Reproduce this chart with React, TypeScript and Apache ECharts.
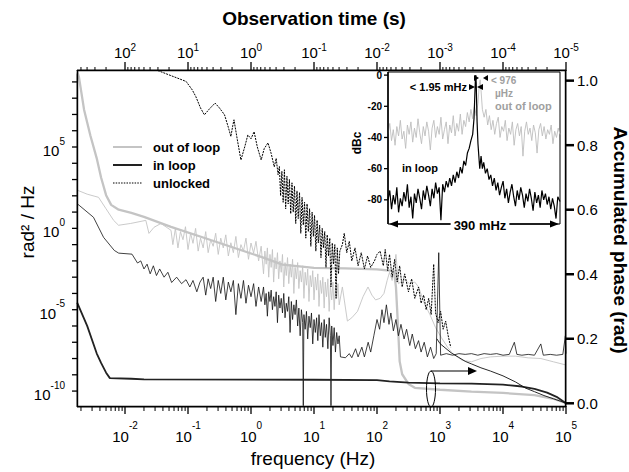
import { useEffect, useRef } from 'react';
import * as echarts from 'echarts';

// ---------- layout of the two plotting areas ----------
const MAIN_GRID = { left: 77, top: 70, width: 489, height: 337 };
const INSET_GRID = { left: 388, top: 72, width: 172, height: 152 };

// ---------- axis ranges ----------
const FREQ_MIN = 0.00173;
const FREQ_MAX = 1e5;
const PSD_MIN = 1.05e-11;
const PSD_MAX = 5.4e9;
const PHASE_MIN = -0.0115;
const PHASE_MAX = 1.033;
const INSET_F_MIN = -195; // mHz
const INSET_F_MAX = 195;
const DBC_MIN = -95.5;
const DBC_MAX = 2;

// ---------- tick values ----------
const FREQ_DECADES = [1e-2, 1e-1, 1, 10, 100, 1e3, 1e4, 1e5];
const TIME_DECADES = [1e2, 10, 1, 0.1, 0.01, 1e-3, 1e-4, 1e-5];
const PSD_TICKS = [1e-10, 1e-9, 1e-8, 1e-7, 1e-6, 1e-5, 1e-4, 1e-3, 1e-2, 0.1, 1, 10, 100, 1e3, 1e4, 1e5, 1e6, 1e7, 1e8, 1e9];
const PSD_LABELS = [1e-10, 1e-5, 1, 1e5];
const PHASE_TICKS = [0, 0.2, 0.4, 0.6, 0.8, 1.0];
const DBC_TICKS = [0, -20, -40, -60, -80];
const MINOR_MULTIPLIERS = [2, 3, 4, 5, 6, 7, 8, 9];

// ---------- main plot data: [frequency Hz, rad^2/Hz] ----------
const OUT_LOOP_PSD = [
  [0.00174, 224], [0.00251, 126], [0.0038, 81], [0.005, 16], [0.0066, 3.1], [0.0079, 1.55],
  [0.0123, 2.0], [0.0214, 3.1], [0.024, 0.49], [0.0288, 1.15], [0.0372, 2.0], [0.0537, 0.76],
  [0.0575, 0.1], [0.0631, 1], [0.0692, 0.063], [0.0759, 0.63], [0.0832, 0.2], [0.0912, 1.26],
  [0.1, 0.05], [0.11, 0.5], [0.12, 0.12], [0.132, 1], [0.145, 0.04], [0.158, 0.25],
  [0.174, 0.063], [0.191, 0.63], [0.209, 0.032], [0.229, 0.2], [0.251, 0.079], [0.275, 0.5],
  [0.302, 0.025], [0.331, 0.25], [0.363, 0.063], [0.398, 0.4], [0.437, 0.02], [0.479, 0.13],
  [0.525, 0.032], [0.575, 0.32], [0.631, 0.016], [0.692, 0.1], [0.759, 0.04], [0.832, 0.25],
  [0.912, 0.0126], [1.0, 0.126], [1.1, 0.03], [1.2, 0.16], [1.32, 0.01], [1.45, 0.08],
  [1.58, 1.6e-3], [1.66, 0.04], [1.74, 6.3e-3], [1.82, 0.063], [1.91, 1e-3], [2.0, 0.025],
  [2.09, 4e-3], [2.19, 0.05], [2.29, 5e-4], [2.4, 0.016], [2.51, 3.2e-3], [2.63, 0.032],
  [2.75, 7.9e-4], [2.88, 0.01], [3.02, 2e-3], [3.16, 0.025], [3.31, 2.5e-4], [3.47, 7.9e-3],
  [3.63, 1.26e-3], [3.8, 0.016], [3.98, 4e-4], [4.17, 6.3e-3], [4.37, 1e-3], [4.57, 0.0126],
  [4.79, 1e-4], [5.01, 4e-3], [5.25, 7.9e-4], [5.5, 7.9e-3], [5.75, 2e-4], [6.03, 2.5e-3],
  [6.31, 5e-4], [6.61, 5e-3], [6.92, 5e-5], [7.24, 2e-3], [7.59, 3.2e-4], [7.94, 3.2e-3],
  [8.32, 3.2e-5], [8.71, 1.26e-3], [9.12, 2.5e-4], [9.55, 2.5e-3], [10, 4e-5], [10.5, 1e-3],
  [11.0, 1.6e-4], [11.5, 1.6e-3], [12.0, 1.6e-5], [12.6, 6.3e-4], [13.2, 1e-4], [13.8, 1e-3],
  [14.5, 1.26e-5], [15.1, 5e-4], [15.8, 6.3e-5], [16.6, 7.9e-4], [17.4, 7.9e-6], [18.2, 3.2e-4],
  [19.1, 4e-5], [20.0, 5e-4], [20.9, 1e-5], [21.9, 2.5e-4], [22.9, 5e-5], [24.0, 4e-4],
  [25.1, 2e-5], [28.2, 2.5e-4], [33.9, 2e-6], [39.8, 3.2e-6], [49, 7.9e-6], [60, 6.3e-5],
  [72, 2.5e-4], [83, 7.9e-5], [95, 4e-5], [112, 5e-5], [129, 1e-4], [145, 6.3e-4], [158, 2e-3],
  [174, 6.3e-4], [200, 0.025], [219, 4e-4], [269, 7e-4], [331, 4e-4], [398, 5e-4], [457, 2.5e-4],
  [562, 2.5e-5], [692, 5e-6], [851, 7.9e-7], [1047, 2e-7], [1318, 5e-8], [1585, 2e-8],
  [2239, 7.9e-9], [3162, 6.3e-9], [4467, 1e-8], [6310, 1.26e-8], [1e4, 1.4e-8], [15850, 1.4e-8],
  [25120, 1.1e-8], [39810, 1e-8], [63100, 6.3e-9], [1e5, 4e-9],
];

const IN_LOOP_PSD = [
  [0.00174, 33], [0.00316, 4.8], [0.00457, 0.28], [0.00676, 0.044], [0.00794, 0.03],
  [0.0129, 0.026], [0.0158, 7.4e-3], [0.0178, 0.01], [0.02, 3.2e-3], [0.0224, 6.3e-3],
  [0.0251, 1.6e-3], [0.0282, 5e-3], [0.0316, 1.26e-3], [0.0355, 3.2e-3], [0.0417, 1e-3],
  [0.0479, 2e-3], [0.055, 4.7e-4], [0.066, 1e-3], [0.079, 4e-4], [0.093, 7e-4], [0.107, 2.5e-4],
  [0.12, 6.3e-4], [0.138, 1.26e-4], [0.155, 5e-4],
  [0.174, 1e-3], [0.191, 7.9e-5], [0.209, 7.9e-4], [0.229, 2e-4], [0.251, 1e-3], [0.275, 3.2e-5],
  [0.302, 6.3e-4], [0.331, 1e-4], [0.363, 1e-3], [0.398, 4e-5], [0.437, 5e-4], [0.479, 1.26e-4],
  [0.525, 6.3e-4], [0.575, 5e-6], [0.631, 4e-4], [0.692, 5e-5], [0.759, 6.3e-4], [0.832, 2.5e-5],
  [0.912, 3.2e-4], [1.0, 6.3e-5], [1.1, 4e-4], [1.2, 1.6e-5], [1.32, 2.5e-4], [1.45, 3.2e-5],
  [1.58, 2.5e-4], [1.66, 2e-5], [1.74, 1e-4], [1.82, 4e-6], [1.91, 1.26e-4], [2.0, 3.2e-5],
  [2.09, 1.6e-4], [2.19, 1e-5], [2.29, 6.3e-5], [2.4, 1.6e-5], [2.51, 1.26e-4], [2.63, 1.6e-6],
  [2.75, 7.9e-5], [2.88, 1.26e-5], [3.02, 5e-5], [3.16, 6.3e-6], [3.31, 1e-4], [3.47, 3.2e-6],
  [3.63, 2.5e-5], [3.8, 7.9e-6], [3.98, 6.3e-5], [4.17, 4e-7], [4.37, 3.2e-5], [4.57, 2.5e-6],
  [4.79, 2e-5], [5.01, 5e-6], [5.25, 4e-5], [5.5, 1e-6], [5.75, 1.26e-5], [6.03, 2.5e-7],
  [6.31, 1e-5], [6.61, 1.6e-6], [6.76, 1.26e-11], [6.92, 5e-6], [7.24, 6.3e-7], [7.59, 7.9e-6],
  [7.94, 1.6e-7], [8.32, 4e-6], [8.71, 7.9e-7], [9.12, 6.3e-6], [9.55, 7.9e-8], [10, 2.5e-6],
  [10.5, 4e-7], [11.0, 3.2e-6], [11.5, 1.26e-7], [12.0, 5e-6], [12.6, 2.5e-7], [13.2, 1.6e-6],
  [13.8, 5e-8], [14.5, 2.5e-6], [15.1, 2e-7], [15.8, 1.26e-6], [16.6, 4e-8], [17.4, 3.2e-6],
  [18.2, 2.5e-7], [18.6, 1.26e-11], [19.1, 1e-6], [20.0, 6.3e-8], [20.9, 7.9e-7], [21.9, 2.5e-8],
  [22.9, 4e-7], [24.0, 7.9e-8], [25.1, 2.5e-7],
  [26.3, 1.26e-8], [31.6, 1.12e-8], [36.3, 2e-8], [39.8, 1.12e-8], [45.7, 4e-8], [50.1, 1.26e-8],
  [57.5, 5e-8], [63.1, 1.26e-8], [72.4, 1e-7], [79.4, 2.5e-8], [89.1, 2.5e-7], [100, 2.5e-6],
  [110, 6.3e-7], [120, 1e-5], [129, 1.6e-6], [141, 2e-5], [155, 1.26e-6], [166, 6.3e-6],
  [182, 5e-7], [200, 2.5e-6], [219, 2.5e-7], [240, 1.26e-6], [269, 1.6e-7], [295, 6.3e-7],
  [331, 6.3e-8], [363, 3.2e-7], [407, 4e-8], [457, 1.26e-7], [501, 2.5e-8], [562, 1e-7],
  [631, 1.26e-8], [708, 5e-8], [794, 1e-8], [871, 2e-8], [955, 0.032], [1023, 1.6e-8],
  [1259, 2e-8], [1585, 1.6e-8], [1995, 2e-8], [2512, 1.8e-8], [3162, 2e-8], [3981, 1.6e-8],
  [5012, 2e-8], [6310, 1.8e-8], [7943, 2e-8], [1e4, 1.6e-8], [12590, 1.8e-8], [15140, 1e-7],
  [16600, 1.8e-8], [19950, 1.6e-8], [25120, 1.8e-8], [31620, 1.6e-8], [39810, 7.9e-8],
  [43650, 1.6e-8], [56230, 1.8e-8], [70790, 1.6e-8], [89130, 1.8e-8], [97720, 2.5e-7], [1e5, 2e-8],
];

const UNLOCKED_PSD = [
  [0.0331, 5.0e9], [0.0933, 1.07e9], [0.117, 3.2e8], [0.133, 1.26e8],
  [0.158, 2.5e7], [0.182, 9.5e6], [0.219, 2.2e7], [0.269, 5e7], [0.316, 2.5e7], [0.38, 9.5e6],
  [0.437, 1.6e6], [0.479, 4.4e5], [0.513, 2e6], [0.537, 4.7e6], [0.603, 3.2e5], [0.692, 1.6e4],
  [0.794, 1e5], [0.891, 5.5e5], [1.0, 3.2e5], [1.12, 8.7e5], [1.26, 1e5], [1.45, 1.6e4],
  [1.62, 7.9e4], [1.86, 1.8e5], [2.09, 4e4], [2.34, 6e3], [2.51, 2e4], [2.69, 2e3],
  [2.82, 6.3e3], [2.95, 100], [3.09, 3.2e3], [3.24, 40], [3.39, 4e3], [3.55, 16], [3.72, 1.6e3],
  [3.89, 32], [4.07, 1e3], [4.27, 7.9], [4.47, 630], [4.68, 10], [4.9, 400], [5.13, 2],
  [5.37, 200], [5.62, 4], [5.89, 160], [6.17, 0.5], [6.46, 79], [6.76, 1.6], [7.08, 40],
  [7.41, 0.25], [7.76, 32], [8.13, 0.63], [8.51, 16], [8.91, 0.079], [9.33, 10], [9.77, 0.32],
  [10.2, 6.3], [10.7, 0.04], [11.2, 3.2], [11.7, 0.126], [12.3, 1.6], [12.9, 0.016], [13.5, 1],
  [14.1, 0.063], [14.8, 0.63], [15.5, 4e-3], [16.2, 0.4], [17.0, 0.02], [17.8, 0.25],
  [18.6, 2.5e-4], [19.5, 0.126], [20.4, 6.3e-3], [21.4, 0.1], [22.4, 5e-5], [23.4, 0.063],
  [24.5, 1.6e-3], [25.7, 0.04],
  [28.2, 0.1], [30.2, 0.5], [33.1, 0.032], [36.3, 0.16], [39.8, 0.01], [44.7, 0.063], [50.1, 5e-3],
  [56.2, 0.032], [63.1, 3.2e-3], [70.8, 0.02], [79.4, 4e-3], [91.2, 0.01], [100, 0.025],
  [112, 0.04], [126, 5e-3], [135, 0.05], [148, 2.5e-3], [158, 0.025], [174, 1e-3], [191, 0.0126],
  [209, 5e-4], [229, 5e-3], [251, 2.5e-4], [275, 1.6e-3], [316, 1.26e-4], [355, 7.9e-4],
  [398, 5e-5], [457, 2.5e-4], [501, 2.5e-5], [550, 7.9e-5], [603, 1e-5], [661, 5e-5],
  [724, 5e-6], [794, 6.3e-3], [851, 6.3e-6], [933, 1.6e-6], [1023, 7.9e-6], [1122, 6.3e-7],
  [1230, 2e-6], [1349, 2.5e-7], [1479, 5e-8],
];

// ---------- accumulated phase: [frequency Hz, rad] ----------
const OUT_LOOP_ACC = [
  [0.00174, 1.03], [0.00186, 1.01], [0.00224, 0.91], [0.00282, 0.83], [0.00355, 0.76],
  [0.00417, 0.7], [0.00501, 0.645], [0.00603, 0.615], [0.00794, 0.6], [0.0126, 0.59],
  [0.02, 0.578], [0.0537, 0.547], [0.229, 0.506], [1.45, 0.454], [3.16, 0.43], [10, 0.42],
  [31.6, 0.418], [100, 0.415], [186, 0.41], [200, 0.36], [214, 0.25], [229, 0.13], [251, 0.09],
  [316, 0.06], [398, 0.048], [1000, 0.042], [3162, 0.036], [1e4, 0.032], [31620, 0.025],
  [63100, 0.014], [1e5, 0],
];

const IN_LOOP_ACC = [
  [0.00174, 0.312], [0.00251, 0.24], [0.00355, 0.155], [0.00417, 0.125], [0.00501, 0.095],
  [0.00575, 0.078], [0.0126, 0.076], [0.02, 0.074], [10, 0.073], [100, 0.072], [158, 0.068],
  [316, 0.064], [1000, 0.062], [3162, 0.061], [1e4, 0.058], [19950, 0.052], [31620, 0.045],
  [50120, 0.033], [70790, 0.02], [1e5, 0],
];

const UNLOCKED_ACC = [
  [891, 0.2], [1000, 0.185], [1202, 0.172], [1514, 0.156], [1995, 0.142], [2512, 0.13],
  [3162, 0.122], [4467, 0.11], [6310, 0.1], [1e4, 0.085], [15850, 0.066], [22900, 0.047],
  [31620, 0.036], [44670, 0.024], [63100, 0.014], [83180, 0.006], [1e5, 0],
];

// ---------- inset: [offset mHz, dBc] ----------
const INSET_OUT_LOOP = [
  [-195, -38], [-191, -31], [-187, -42], [-183, -35], [-179, -45], [-175, -33], [-171, -39],
  [-167, -29], [-163, -41], [-159, -36], [-155, -47], [-151, -32], [-147, -38], [-143, -30],
  [-139, -43], [-135, -34], [-131, -40], [-127, -28], [-123, -37], [-119, -44], [-115, -33],
  [-111, -39], [-107, -30], [-103, -36], [-99, -48], [-95, -34], [-91, -29], [-87, -40],
  [-83, -33], [-79, -38], [-75, -27], [-71, -41], [-67, -35], [-63, -30], [-59, -44], [-55, -32],
  [-51, -37], [-47, -26], [-43, -39], [-39, -31], [-35, -36], [-31, -25], [-27, -38], [-23, -29],
  [-19, -33], [-15, -24], [-11, -30], [-7, -22], [-3, -28], [1, -20], [5, -26], [9, -18],
  [12, -6], [14, -3], [16, -10], [19, -22], [23, -27], [27, -22], [31, -32], [35, -26],
  [39, -35], [43, -29], [47, -38], [51, -31], [55, -27], [59, -40], [63, -33], [67, -36],
  [71, -29], [75, -42], [79, -34], [83, -38], [87, -30], [91, -45], [95, -35], [99, -31],
  [103, -39], [107, -33], [111, -52], [115, -36], [119, -30], [123, -38], [127, -34], [131, -42],
  [135, -32], [139, -37], [143, -50], [147, -35], [151, -31], [155, -39], [159, -33], [163, -41],
  [167, -35], [171, -38], [175, -32], [179, -44], [183, -36], [187, -40], [191, -34], [195, -38],
];

const INSET_IN_LOOP = [
  [-195, -80], [-191, -74], [-187, -86], [-183, -77], [-179, -83], [-175, -72], [-171, -88],
  [-167, -79], [-163, -84], [-159, -75], [-155, -81], [-151, -70], [-147, -85], [-143, -78],
  [-139, -92], [-135, -76], [-131, -82], [-127, -73], [-123, -79], [-119, -86], [-115, -74],
  [-111, -80], [-107, -71], [-103, -77], [-99, -84], [-95, -73], [-91, -79], [-87, -69],
  [-83, -76], [-79, -72], [-75, -93], [-71, -70], [-67, -75], [-63, -68], [-59, -72], [-55, -66],
  [-51, -71], [-47, -64], [-43, -69], [-39, -62], [-35, -66], [-31, -59], [-27, -63], [-23, -55],
  [-19, -58], [-15, -50], [-11, -47], [-7, -42], [-3, -38], [0, -28], [3, -4], [4, 0], [5, -5],
  [7, -30], [9, -44], [13, -60], [16, -52], [19, -60], [22, -56], [26, -63], [30, -60], [34, -67],
  [38, -64], [42, -71], [46, -66], [50, -74], [54, -69], [58, -77], [62, -72], [66, -68],
  [70, -79], [74, -73], [78, -82], [82, -75], [86, -70], [90, -78], [94, -84], [98, -74],
  [102, -80], [106, -72], [110, -77], [114, -85], [118, -76], [122, -81], [126, -73], [130, -79],
  [134, -87], [138, -75], [142, -82], [146, -77], [150, -85], [154, -74], [158, -80], [162, -76],
  [166, -83], [170, -78], [174, -86], [178, -79], [182, -84], [186, -92], [190, -78], [195, -81],
];

// ---------- styling ----------
const FONT = 'Liberation Sans, Arial, Helvetica, sans-serif';
const GRAY = '#c4c4c4';
const INK = '#000';

const minorTicks = (decades: number[], lo: number, hi: number) => {
  const out: number[] = [];
  decades.forEach((d) => MINOR_MULTIPLIERS.forEach((m) => {
    const v = d * m;
    if (v > lo && v < hi) out.push(v);
  }));
  return out;
};

const expFormatter = (v: number) => `{b|10}{e|${Math.round(Math.log10(v))}}`;
const richExp = (pad: number) => ({
  b: { fontSize: 15, fontFamily: FONT, color: INK, padding: [pad, 0, 0, 0], verticalAlign: 'bottom' },
  e: { fontSize: 10, fontFamily: FONT, color: INK, verticalAlign: 'top' },
});

const noLine = { show: false, onZero: false };
const noTick = { show: false };

// positions on the axes (same linear-in-log mapping the axes use)
const logPos = (v: number, lo: number, hi: number, a: number, b: number) =>
  a + ((Math.log10(v) - Math.log10(lo)) / (Math.log10(hi) - Math.log10(lo))) * (b - a);
const linPos = (v: number, lo: number, hi: number, a: number, b: number) => a + ((v - lo) / (hi - lo)) * (b - a);

function buildGraphics() {
  const L = MAIN_GRID.left, R = MAIN_GRID.left + MAIN_GRID.width;
  const T = MAIN_GRID.top, B = MAIN_GRID.top + MAIN_GRID.height;
  const W = MAIN_GRID.width, H = MAIN_GRID.height;
  const IL = INSET_GRID.left, IT = INSET_GRID.top, IB = INSET_GRID.top + INSET_GRID.height;

  const fx = (v: number) => logPos(v, FREQ_MIN, FREQ_MAX, L, R);
  const tx = (v: number) => logPos(v, 1 / FREQ_MIN, 1 / FREQ_MAX, L, R);
  const py = (v: number) => logPos(v, PSD_MIN, PSD_MAX, B, T);
  const ry = (v: number) => linPos(v, PHASE_MIN, PHASE_MAX, B, T);
  const dy = (v: number) => linPos(v, DBC_MIN, DBC_MAX, IB, IT);

  const els: any[] = [];
  const text = (t: string, x: number, y: number, font: string, fill: string, align = 'left', rotation = 0, extra: any = {}) =>
    els.push({
      type: 'text', x, y, rotation, z: 140, silent: true,
      style: { text: t, font, fill, align, verticalAlign: 'middle', textAlign: align, textVerticalAlign: 'middle', ...extra },
    });
  const tri = (pts: number[][]) => els.push({ type: 'polygon', z: 130, silent: true, shape: { points: pts }, style: { fill: INK } });
  const stroke = (shape: any, style: any, type = 'line') => els.push({ type, z: 130, silent: true, shape, style });
  const box = (x: number, y: number, width: number, height: number) =>
    els.push({ type: 'polygon', z: 130, silent: true, shape: { points: [[x, y], [x + width, y], [x + width, y + height], [x, y + height]] }, style: { fill: INK } });

  // titles
  text('Observation time (s)', 314, 18, `bold 19px ${FONT}`, INK, 'center');
  text('frequency (Hz)', 313, 458, `19px ${FONT}`, INK, 'center');
  text('rad² / Hz', 27, 222, `19px ${FONT}`, INK, 'center', Math.PI / 2);
  text('Accumulated phase (rad)', 620, 240, `bold 19px ${FONT}`, INK, 'center', -Math.PI / 2);
  // legend
  stroke({ x1: 113, y1: 147, x2: 142, y2: 147 }, { stroke: GRAY, lineWidth: 2 });
  stroke({ x1: 113, y1: 165, x2: 142, y2: 165 }, { stroke: '#222', lineWidth: 2 });
  stroke({ x1: 113, y1: 183, x2: 142, y2: 183 }, { stroke: '#000', lineWidth: 1.2, lineDash: [1.5, 1.2] });
  text('out of loop', 153, 147, `bold 13px ${FONT}`, INK);
  text('in loop', 153, 165, `bold 13px ${FONT}`, INK);
  text('unlocked', 153, 183, `bold 13px ${FONT}`, INK);
  // ellipse + arrow
  stroke({ cx: 431, cy: 389, rx: 4.5, ry: 18 }, { fill: 'none', stroke: INK, lineWidth: 1 }, 'ellipse');
  stroke({ x1: 431, y1: 371, x2: 470, y2: 371 }, { stroke: INK, lineWidth: 1.2 });
  tri([[468, 367], [477, 371], [468, 375]]);
  // inset annotations
  text('dBc', 357, 143, `bold 12px ${FONT}`, INK, 'center', Math.PI / 2);
  text('< 1.95 mHz', 467, 87, `bold 11px ${FONT}`, INK, 'right');
  tri([[469, 84], [475, 87], [469, 90]]);
  tri([[483, 84], [477, 87], [483, 90]]);
  tri([[474, 75], [479, 78], [474, 81]]);
  tri([[488, 75], [483, 78], [488, 81]]);
  text('< 976', 491, 80, `bold 10px ${FONT}`, '#a0a0a0');
  text('µHz', 495, 93, `bold 10px ${FONT}`, '#a0a0a0');
  text('out of loop', 495, 106, `bold 11px ${FONT}`, '#a0a0a0');
  text('in loop', 402, 168, `bold 11px ${FONT}`, INK);
  stroke({ x1: 392, y1: 224, x2: 556, y2: 224 }, { stroke: INK, lineWidth: 1.3 });
  tri([[398, 220.5], [389, 224], [398, 227.5]]);
  tri([[550, 220.5], [559, 224], [550, 227.5]]);
  text('390 mHz', 480, 225, `bold 13px ${FONT}`, INK, 'center', 0, { backgroundColor: '#fff', padding: [0, 3] });

  // frame of the main plot, drawn just inside the plotting area
  box(L, T, W, 1.2);
  box(L, B - 1.2, W, 1.2);
  box(L, T, 1.2, H);
  box(R - 1.2, T, 1.2, H);
  // inset axis line
  box(IL - 0.75, IT, 1.5, IB - IT);

  const freqMinor = minorTicks([1e-3, 1e-2, 1e-1, 1, 10, 100, 1e3, 1e4], FREQ_MIN, FREQ_MAX);
  const timeMinor = minorTicks([1e-5, 1e-4, 1e-3, 1e-2, 1e-1, 1, 10, 100], 1 / FREQ_MAX, 1 / FREQ_MIN);

  FREQ_DECADES.forEach((v) => box(fx(v) - 0.65, B - 1, 1.3, 8));
  freqMinor.forEach((v) => box(fx(v) - 0.5, B - 1, 1, 5));
  TIME_DECADES.forEach((v) => box(tx(v) - 0.65, T - 8, 1.3, 9));
  timeMinor.forEach((v) => box(tx(v) - 0.5, T - 3, 1, 4));
  PSD_TICKS.forEach((v) => box(L - 5, py(v) - 0.65, 6, 1.3));
  PHASE_TICKS.forEach((v) => box(R - 1, ry(v) - 1.25, 9, 2.5));
  DBC_TICKS.forEach((v) => box(IL - 4, dy(v) - 0.65, 4, 1.3));
  return els;
}

function buildOption() {
  const line = (data: number[][], x: number, y: number, color: string, width: number, type: any = 'solid', z = 2) => ({
    type: 'line', xAxisIndex: x, yAxisIndex: y, data, symbol: 'none', showSymbol: false, clip: false,
    lineStyle: { color, width, type }, z, animation: false, silent: true,
  });

  return {
    animation: false,
    backgroundColor: '#fff',
    grid: [
      { ...MAIN_GRID, show: true, backgroundColor: 'transparent', borderColor: INK, borderWidth: 1 },
      { ...INSET_GRID, show: true, backgroundColor: '#fff', borderColor: INK, borderWidth: 1, z: 10 },
    ],
    xAxis: [
      {
        type: 'log', gridIndex: 0, position: 'bottom', min: FREQ_MIN, max: FREQ_MAX,
        axisLine: noLine, axisTick: noTick, splitLine: { show: false },
        axisLabel: { show: true, customValues: FREQ_DECADES, formatter: expFormatter, margin: 13, rich: richExp(9) },
      },
      {
        type: 'log', gridIndex: 0, position: 'top', inverse: true, min: 1 / FREQ_MAX, max: 1 / FREQ_MIN,
        axisLine: noLine, axisTick: noTick, splitLine: { show: false },
        axisLabel: { show: true, customValues: TIME_DECADES, formatter: expFormatter, margin: 10, rich: richExp(3) },
      },
      {
        type: 'value', gridIndex: 1, min: INSET_F_MIN, max: INSET_F_MAX, show: false,
      },
    ],
    yAxis: [
      {
        type: 'log', gridIndex: 0, position: 'left', min: PSD_MIN, max: PSD_MAX,
        axisLine: noLine, axisTick: noTick, splitLine: { show: false },
        axisLabel: { show: true, customValues: PSD_LABELS, formatter: expFormatter, margin: 12, rich: richExp(7) },
      },
      {
        type: 'value', gridIndex: 0, position: 'right', min: PHASE_MIN, max: PHASE_MAX,
        axisLine: noLine, axisTick: noTick, splitLine: { show: false },
        axisLabel: { show: true, customValues: PHASE_TICKS, formatter: (v: number) => v.toFixed(1), margin: 11, fontSize: 15, fontFamily: FONT, color: INK },
      },
      {
        type: 'value', gridIndex: 1, min: DBC_MIN, max: DBC_MAX, z: 12,
        axisLine: noLine, axisTick: noTick, splitLine: { show: false },
        axisLabel: { show: true, customValues: DBC_TICKS, margin: 6, fontSize: 10, fontWeight: 'bold', fontFamily: FONT, color: INK },
      },
    ],
    series: [
      line(OUT_LOOP_PSD, 0, 0, GRAY, 0.9),
      line(OUT_LOOP_ACC, 0, 1, GRAY, 2.3),
      line(IN_LOOP_PSD, 0, 0, '#111', 0.8),
      line(IN_LOOP_ACC, 0, 1, '#222', 1.8),
      line(UNLOCKED_PSD, 0, 0, '#000', 1, [2, 1]),
      line(UNLOCKED_ACC, 0, 1, '#111', 0.9),
      line(INSET_OUT_LOOP, 2, 2, '#bdbdbd', 0.9, 'solid', 12),
      line(INSET_IN_LOOP, 2, 2, '#000', 1.2, 'solid', 13),
    ],
    graphic: buildGraphics(),
  };
}

export default function App() {
  const ref = useRef<HTMLDivElement>(null);
  useEffect(() => {
    if (!ref.current) return;
    const chart = echarts.init(ref.current, undefined, { renderer: 'svg' });
    chart.setOption(buildOption() as any);
    return () => chart.dispose();
  }, []);
  return (
    <div
      ref={ref}
      style={{ position: 'fixed', left: 0, top: 0, width: 629, height: 472, background: '#fff' }}
    />
  );
}
